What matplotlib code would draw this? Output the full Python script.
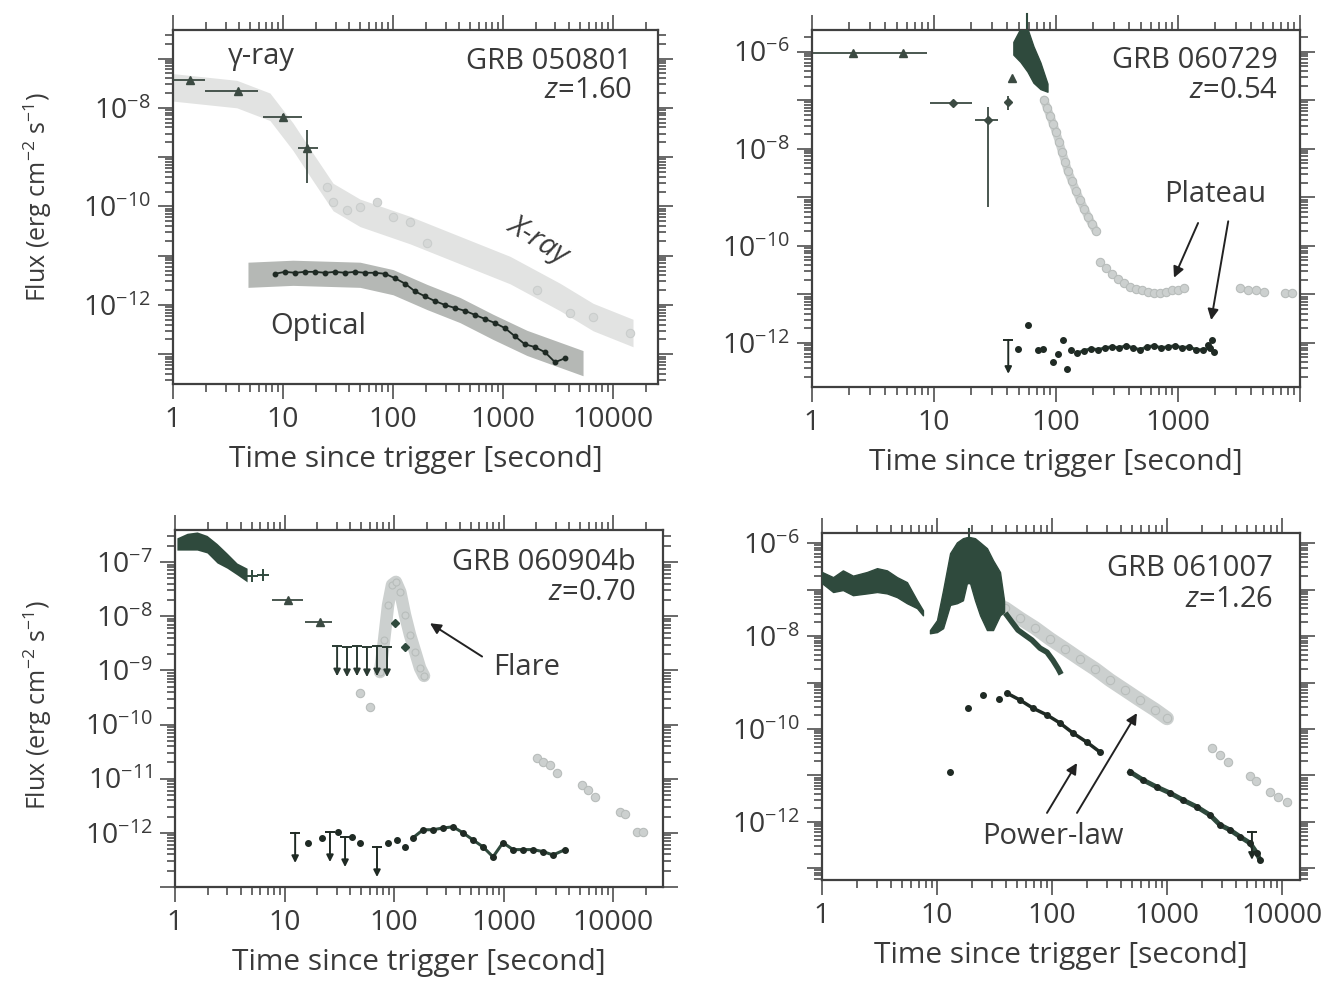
import numpy as np
import matplotlib
matplotlib.use("Agg")
import matplotlib.pyplot as plt
from matplotlib.ticker import FixedLocator, FuncFormatter, LogLocator, NullFormatter

plt.rcParams['font.family'] = ['Open Sans', 'DejaVu Sans']
plt.rcParams['mathtext.fontset'] = 'custom'
plt.rcParams['mathtext.rm'] = 'Open Sans'
plt.rcParams['mathtext.it'] = 'Open Sans:italic'
plt.rcParams['mathtext.default'] = 'regular'

# ====================== DATA ======================
# --- GRB 050801 ---
a_gam_x = [1.43, 3.9, 10.0, 16.5]
a_gam_y = [3.7e-8, 2.2e-8, 6.6e-9, 1.55e-9]
a_gam_xlo = [1.0, 1.95, 6.6, 13.7]
a_gam_xhi = [1.95, 5.9, 14.8, 20.8]
a_gam_ylo = [3.3e-8, 2.0e-8, 5.9e-9, 3.0e-10]
a_gam_yhi = [4.1e-8, 2.4e-8, 7.4e-9, 3.6e-9]
a_band_x = [1, 3.8, 7.6, 12.3, 18.7, 28.5, 50.1, 143, 406, 1160, 3300, 6580, 15200]
a_band_y = [2.6e-8, 1.9e-8, 1.05e-8, 2.6e-9, 6.3e-10, 1.55e-10, 7.4e-11, 3.3e-11,
            1.3e-11, 5.1e-12, 1.45e-12, 5.7e-13, 2.7e-13]
a_xr_x = [25.1, 28.5, 38.2, 50.1, 71.6, 100, 143, 204, 2040, 4060, 6580, 14300]
a_xr_y = [2.5e-10, 1.2e-10, 8.5e-11, 9.8e-11, 1.2e-10, 6.2e-11, 4.9e-11, 1.8e-11,
          2.0e-12, 6.9e-13, 5.7e-13, 2.7e-13]
a_optband_x = [4.8, 12.3, 50.1, 100, 204, 406, 811, 1650, 5340]
a_optband_y = [4.1e-12, 4.5e-12, 4.1e-12, 2.9e-12, 1.45e-12, 7.9e-13, 3.6e-13, 1.7e-13, 6.6e-14]
a_opt_x = [8.46, 10.4, 12.9, 15.8, 19.5, 24.1, 29.7, 36.6, 45.2, 55.6, 68.6, 84.6, 104, 129,
           158, 195, 241, 297, 366, 452, 556, 686, 846, 1040, 1290, 1580, 1950, 2410, 2970, 3660]
a_opt_y = [4.3e-12, 4.7e-12, 4.5e-12, 4.7e-12, 4.7e-12, 4.5e-12, 4.7e-12, 4.5e-12, 4.7e-12,
           4.5e-12, 4.5e-12, 4.3e-12, 3.5e-12, 2.7e-12, 1.9e-12, 1.5e-12, 1.2e-12, 1.0e-12,
           8.7e-13, 7.6e-13, 6.3e-13, 5.2e-13, 4.3e-13, 3.4e-13, 2.3e-13, 1.6e-13, 1.4e-13,
           1.1e-13, 6.9e-14, 8.3e-14]

# --- GRB 060729 ---
b_bat_x = [2.15, 5.56]
b_bat_y = [9.5e-7, 9.5e-7]
b_bat_xlo = [1.0, 3.6]
b_bat_xhi = [3.6, 8.8]
b_crs_x = [14.3, 27.8, 40.6]
b_crs_y = [8.9e-8, 4.0e-8, 9.0e-8]
b_crs_xlo = [9.3, 21.7, 39.0]
b_crs_xhi = [20.6, 33.6, 42.2]
b_crs_ylo = [8.0e-8, 6.3e-10, 6.4e-8]
b_crs_yhi = [9.9e-8, 7.4e-8, 1.2e-7]
b_tri_x = [43.9]
b_tri_y = [2.9e-7]
b_peak_x = [44.7, 51.0, 58.3, 65.3, 74.5, 85.1]
b_peak_hi = [1.6e-6, 3.0e-6, 3.0e-6, 1.3e-6, 6.0e-7, 2.2e-7]
b_peak_lo = [8.7e-7, 6.2e-7, 3.9e-7, 2.3e-7, 1.7e-7, 1.5e-7]
b_xr_x = [79.7, 84.4, 89.3, 94.5, 100, 106, 112, 119, 125, 135, 146, 157, 170, 183, 197, 213,
          230, 257, 288, 322, 361, 404, 453, 507, 568, 636, 712, 797, 893, 1000, 1120,
          3220, 3750, 4360, 5070, 7530, 8600]
b_xr_y = [1.02e-7, 7.0e-8, 4.8e-8, 3.3e-8, 2.2e-8, 1.4e-8, 8.7e-9, 5.4e-9, 3.5e-9, 2.2e-9,
          1.36e-9, 8.9e-10, 5.8e-10, 4.0e-10, 2.8e-10, 2.0e-10,
          4.7e-11, 3.5e-11, 2.6e-11, 2.1e-11, 1.7e-11, 1.4e-11, 1.3e-11, 1.2e-11, 1.1e-11,
          1.07e-11, 1.07e-11, 1.1e-11, 1.2e-11, 1.23e-11, 1.35e-11,
          1.35e-11, 1.23e-11, 1.2e-11, 1.1e-11, 1.07e-11, 1.07e-11]
b_opt_x = [49.1, 59.4, 71.8, 78.9, 95.3, 103, 115, 124, 132,
           149, 170, 194, 221, 252, 288, 328, 375, 428, 488, 557, 636, 726, 828, 945,
           1080, 1230, 1410, 1600, 1830, 1760, 1900, 1970]
b_opt_y = [7.6e-13, 2.3e-12, 7.2e-13, 7.6e-13, 4.1e-13, 6.0e-13, 1.15e-12, 2.9e-13, 7.2e-13,
           6.2e-13, 6.9e-13, 7.6e-13, 7.2e-13, 7.9e-13, 8.3e-13, 7.9e-13, 8.7e-13, 7.9e-13,
           7.2e-13, 8.3e-13, 8.7e-13, 7.9e-13, 8.3e-13, 8.7e-13, 7.9e-13, 8.3e-13, 7.2e-13,
           7.2e-13, 7.9e-13, 9.1e-13, 1.15e-12, 6.5e-13]
b_ul_x = [40.6]
b_ul_y = [1.15e-12]

# --- GRB 060904b ---
c_bat_x = [1.04, 1.29, 1.59, 1.96, 2.42, 2.98, 3.68, 4.55]
c_bat_hi = [2.8e-7, 3.4e-7, 3.6e-7, 3.1e-7, 2.2e-7, 1.47e-7, 9.6e-8, 7.7e-8]
c_bat_lo = [1.66e-7, 1.66e-7, 1.66e-7, 1.47e-7, 9.6e-8, 7.7e-8, 5.8e-8, 4.3e-8]
c_crs_x = [5.0, 6.3]
c_crs_y = [5.5e-8, 5.8e-8]
c_tri_x = [10.8, 21.1]
c_tri_y = [2.0e-8, 7.8e-9]
c_tri_xlo = [7.7, 15.4]
c_tri_xhi = [14.8, 27.2]
c_ul_x = [30.2, 37.2, 45.9, 56.6, 69.9, 86.3]
c_ul_y = [2.8e-9, 2.7e-9, 2.8e-9, 2.7e-9, 2.8e-9, 2.7e-9]
c_flare_x = [74.5, 81.1, 88.2, 95.9, 104, 114, 126, 140, 156, 173, 188]
c_flare_y = [9.3e-10, 3.6e-9, 1.6e-8, 3.8e-8, 4.3e-8, 2.8e-8, 1.05e-8, 4.5e-9, 2.2e-9, 1.1e-9, 7.9e-10]
c_mid_x = [102, 126]
c_mid_y = [7.4e-9, 2.7e-9]
c_xr_x = [48.9, 60.4, 2020, 2300, 2660, 3080, 5210, 5910, 6850, 11600, 12900, 16600, 18800]
c_xr_y = [3.8e-10, 2.1e-10, 2.4e-11, 2.0e-11, 1.8e-11, 1.3e-11, 7.7e-12, 6.2e-12, 4.6e-12,
          2.4e-12, 2.2e-12, 1.05e-12, 1.05e-12]
c_opt_x = [16.4, 22.0, 30.8, 41.3, 48.9, 88.2, 106, 126, 149, 184, 227, 280, 346, 427, 526,
           650, 802, 989, 1220, 1510, 1860, 2300, 2830, 3650]
c_opt_y = [6.6e-13, 8.1e-13, 1.04e-12, 8.4e-13, 6.6e-13, 6.6e-13, 7.4e-13, 5.5e-13, 8.1e-13,
           1.14e-12, 1.14e-12, 1.23e-12, 1.29e-12, 1.0e-12, 7.4e-13, 5.5e-13, 3.6e-13, 6.6e-13,
           4.9e-13, 4.9e-13, 4.9e-13, 4.5e-13, 3.9e-13, 4.9e-13]
c_oul_x = [12.5, 26.0, 35.7, 69.9]
c_oul_y = [1.0e-12, 1.04e-12, 8.4e-13, 5.5e-13]

# --- GRB 061007 ---
d_bat_x = [1.0, 1.25, 1.52, 1.86, 2.46, 3.01, 3.67, 4.49, 5.48, 6.70, 7.55]
d_bat_hi = [2.4e-7, 1.86e-7, 2.6e-7, 2.0e-7, 2.4e-7, 2.9e-7, 2.6e-7, 1.86e-7, 1.45e-7, 5.9e-8, 3.6e-8]
d_bat_lo = [1.38e-7, 8.9e-8, 9.8e-8, 7.6e-8, 8.3e-8, 8.9e-8, 8.3e-8, 6.9e-8, 5.1e-8, 4.0e-8, 2.8e-8]
d_flare_x = [8.69, 10.0, 11.3, 13.0, 14.9, 16.8, 18.2, 19.4, 21.4, 23.7, 27.2, 30.7, 35.3, 38.3]
d_flare_hi = [1.35e-8, 2.2e-8, 9.8e-8, 6.1e-7, 1.04e-6, 1.28e-6, 1.35e-6, 1.35e-6, 1.28e-6,
              1.04e-6, 7.8e-7, 4.3e-7, 2.4e-7, 5.9e-8]
d_flare_lo = [1.15e-8, 1.22e-8, 1.48e-8, 4.7e-8, 5.1e-8, 5.9e-8, 1.38e-7, 1.38e-7, 5.9e-8,
              2.8e-8, 1.35e-8, 1.35e-8, 2.8e-8, 3.3e-8]
d_tail_x = [40.6, 44.9, 50.6, 58.2, 67.0, 78.7, 90.5, 102, 113, 117]
d_tail_y = [2.8e-8, 2.0e-8, 1.35e-8, 1.05e-8, 8.2e-9, 5.5e-9, 4.5e-9, 3.0e-9, 2.0e-9, 1.7e-9]
d_xr_x = [39.0, 52.7, 71.1, 96.1, 130, 175, 237, 319, 431, 582, 787, 1000,
          2460, 2890, 3390, 5270, 5940, 7870, 9230, 11000]
d_xr_y = [4.0e-8, 2.4e-8, 1.5e-8, 8.7e-9, 5.3e-9, 3.2e-9, 1.96e-9, 1.13e-9, 6.9e-10, 4.2e-10,
          2.6e-10, 1.7e-10, 3.9e-11, 2.8e-11, 1.95e-11, 9.8e-12, 7.6e-12, 4.4e-12, 3.5e-12, 2.7e-12]
d_opt_x = [13.0, 18.6, 25.1, 34.6, 40.6, 52.7, 68.4, 90.5, 117, 152, 201, 261,
           476, 618, 818, 1060, 1380, 1820, 2370, 2890, 3530, 4310, 5270, 6070, 6440]
d_opt_y = [1.2e-11, 2.9e-10, 5.4e-10, 4.4e-10, 5.9e-10, 4.2e-10, 2.8e-10, 2.0e-10, 1.35e-10,
           8.2e-11, 5.2e-11, 3.2e-11, 1.2e-11, 8.0e-12, 5.6e-12, 4.2e-12, 2.95e-12, 2.1e-12,
           1.4e-12, 8.6e-13, 6.7e-13, 4.8e-13, 3.5e-13, 2.1e-13, 1.5e-13]
d_ul_x = [5480]
d_ul_y = [6.1e-13]

# ====================== STYLE ======================
TXT = '#3a3a3a'
AXC = '#404040'
DARK = '#2f4a3d'
XRAY = '#ccd0cf'
XRAY_EDGE = '#b8bdbb'
BAND_LIGHT = '#e2e3e2'
BAND_OPT = '#b5b8b5'
FS = 21


def style_axis(ax, xmax, ylim, ylabels, xlabels):
    ax.set_xscale('log')
    ax.set_yscale('log')
    ax.set_xlim(1, xmax)
    ax.set_ylim(*ylim)
    lo, hi = int(np.floor(np.log10(ylim[0]))), int(np.ceil(np.log10(ylim[1])))
    ax.yaxis.set_major_locator(FixedLocator([10.0 ** k for k in range(lo, hi + 1)]))
    ax.yaxis.set_major_formatter(FuncFormatter(
        lambda v, p: r'10$^{%d}$' % round(np.log10(v)) if round(np.log10(v)) in ylabels else ''))
    ax.yaxis.set_minor_locator(LogLocator(base=10, subs=np.arange(2, 10), numticks=30))
    ax.yaxis.set_minor_formatter(NullFormatter())
    ax.xaxis.set_major_locator(FixedLocator([1, 10, 100, 1000, 10000]))
    ax.xaxis.set_major_formatter(FuncFormatter(
        lambda v, p: '%d' % round(v) if round(v) in xlabels else ''))
    ax.xaxis.set_minor_locator(LogLocator(base=10, subs=np.arange(2, 10), numticks=30))
    ax.xaxis.set_minor_formatter(NullFormatter())
    ax.tick_params(which='both', direction='out', top=True, right=True, color=AXC, width=1.1)
    ax.tick_params(which='major', length=11, pad=5, labelsize=20.5, labelcolor=TXT)
    ax.tick_params(which='minor', length=5.5)
    for s in ax.spines.values():
        s.set_color(AXC)
        s.set_linewidth(1.6)
    ax.set_xlabel('Time since trigger [second]', fontsize=21.5, color=TXT, labelpad=8)


def down_arrows(ax, xs, ys, drop, color):
    for x, y in zip(xs, ys):
        ax.annotate('', xy=(x, y / drop), xytext=(x, y),
                    arrowprops=dict(arrowstyle='-|>', color=color, lw=1.4,
                                    mutation_scale=10, shrinkA=0, shrinkB=0))
    ax.plot(xs, ys, '_', color=color, ms=7, mew=1.4)


def xr_marks(ax, xs, ys, ms=7, fc=XRAY, ec=XRAY_EDGE):
    ax.plot(xs, ys, 'o', ms=ms, mfc=fc, mec=ec, mew=0.8, ls='none', zorder=2)


fig = plt.figure(figsize=(13.26, 9.85), dpi=100)

# ---------------- GRB 050801 ----------------
ax1 = fig.add_axes([0.1305, 0.6102, 0.3658, 0.3594])
bx, by = np.array(a_band_x), np.array(a_band_y)
ax1.fill_between(bx, by / 1.9, by * 1.9, color=BAND_LIGHT, lw=0, zorder=1)
xr_marks(ax1, a_xr_x, a_xr_y, ms=6, fc='#d6d8d7', ec='#cacdcc')
ox, oy = np.array(a_optband_x), np.array(a_optband_y)
ax1.fill_between(ox, oy / 1.8, oy * 1.8, color=BAND_OPT, lw=0, zorder=1)
ax1.plot(a_opt_x, a_opt_y, '-o', color='#1f2a24', ms=3.2, lw=1.3, zorder=3)
gx, gy = np.array(a_gam_x), np.array(a_gam_y)
ax1.errorbar(gx, gy, xerr=[gx - np.array(a_gam_xlo), np.array(a_gam_xhi) - gx],
             yerr=[gy - np.array(a_gam_ylo), np.array(a_gam_yhi) - gy],
             fmt='^', ms=6, color='#3b4a42', elinewidth=1.3, capsize=0, zorder=4)
style_axis(ax1, 2.57e4, (2.5e-14, 3.8e-7), [-8, -10, -12], [1, 10, 100, 1000, 10000])
ax1.text(0.183, 0.924, 'γ-ray', transform=ax1.transAxes, fontsize=FS, color=TXT, ha='center', va='center')
ax1.text(0.946, 0.91, 'GRB 050801', transform=ax1.transAxes, fontsize=FS, color=TXT, ha='right', va='center')
ax1.text(0.946, 0.83, r'$\mathit{z}$=1.60', transform=ax1.transAxes, fontsize=FS, color=TXT, ha='right', va='center')
ax1.text(0.753, 0.407, 'X-ray', transform=ax1.transAxes, fontsize=FS, color=TXT, ha='center',
         va='center', rotation=-32, style='italic')
ax1.text(0.299, 0.161, 'Optical', transform=ax1.transAxes, fontsize=FS, color=TXT, ha='center', va='center')

# ---------------- GRB 060729 ----------------
ax2 = fig.add_axes([0.6124, 0.6071, 0.3680, 0.3624])
ax2.plot(b_xr_x[:16], b_xr_y[:16], '-', color=XRAY, lw=6, solid_capstyle='round', zorder=1)
xr_marks(ax2, b_xr_x, b_xr_y, ms=6)
ax2.fill_between(b_peak_x, b_peak_lo, b_peak_hi, color=DARK, lw=1, edgecolor=DARK, zorder=3)
ax2.plot([58.3, 58.3], [1.5e-6, 6e-6], color=DARK, lw=1.5, clip_on=False)
x2, y2 = np.array(b_bat_x), np.array(b_bat_y)
ax2.errorbar(x2, y2, xerr=[x2 - np.array(b_bat_xlo), np.array(b_bat_xhi) - x2],
             fmt='^', ms=6, color='#3b4a42', elinewidth=1.3, capsize=0)
x2, y2 = np.array(b_crs_x), np.array(b_crs_y)
ax2.errorbar(x2, y2, xerr=[x2 - np.array(b_crs_xlo), np.array(b_crs_xhi) - x2],
             yerr=[y2 - np.array(b_crs_ylo), np.array(b_crs_yhi) - y2],
             fmt='D', ms=4, color='#3b4a42', elinewidth=1.3, capsize=0)
ax2.plot(b_tri_x, b_tri_y, '^', ms=6, color='#3b4a42')
ax2.plot(b_opt_x[9:29], b_opt_y[9:29], '-', color=DARK, lw=2.2, zorder=3)
ax2.plot(b_opt_x, b_opt_y, 'o', color='#1f2a24', ms=4, zorder=4)
down_arrows(ax2, b_ul_x, b_ul_y, 5.0, '#1f2a24')
style_axis(ax2, 1.0e4, (1.23e-13, 2.8e-6), [-6, -8, -10, -12], [1, 10, 100, 1000])
ax2.text(0.955, 0.916, 'GRB 060729', transform=ax2.transAxes, fontsize=FS, color=TXT, ha='right', va='center')
ax2.text(0.955, 0.832, r'$\mathit{z}$=0.54', transform=ax2.transAxes, fontsize=FS, color=TXT, ha='right', va='center')
ax2.text(0.826, 0.538, 'Plateau', transform=ax2.transAxes, fontsize=FS, color=TXT, ha='center', va='center')
arw = dict(arrowstyle='-|>', color='#222222', lw=1.4, mutation_scale=16, shrinkA=0, shrinkB=0)
ax2.annotate('', xy=(927, 2.2e-11), xytext=(1460, 2.95e-10), arrowprops=arw)
ax2.annotate('', xy=(1870, 2.95e-12), xytext=(2580, 3.2e-10), arrowprops=arw)

# ---------------- GRB 060904b ----------------
ax3 = fig.add_axes([0.1320, 0.0995, 0.3680, 0.3624])
ax3.fill_between(c_bat_x, c_bat_lo, c_bat_hi, color=DARK, lw=0, zorder=3)
ax3.plot(c_crs_x, c_crs_y, '+', ms=8, mew=1.4, color=DARK)
x3, y3 = np.array(c_tri_x), np.array(c_tri_y)
ax3.errorbar(x3, y3, xerr=[x3 - np.array(c_tri_xlo), np.array(c_tri_xhi) - x3],
             fmt='^', ms=6, color='#3b4a42', elinewidth=1.3, capsize=0)
down_arrows(ax3, c_ul_x, c_ul_y, 3.6, '#2a3a32')
ax3.plot(c_flare_x, c_flare_y, '-', color=XRAY, lw=9, solid_capstyle='round', zorder=1)
xr_marks(ax3, c_flare_x, c_flare_y, ms=5)
xr_marks(ax3, c_xr_x, c_xr_y, ms=6)
ax3.plot(c_mid_x, c_mid_y, 'D', ms=4, color=DARK, zorder=4)
ax3.plot(c_opt_x[8:], c_opt_y[8:], '-', color=DARK, lw=2.2, zorder=3)
ax3.plot(c_opt_x, c_opt_y, 'o', color='#1f2a24', ms=4, zorder=4)
down_arrows(ax3, c_oul_x, c_oul_y, 3.6, '#1f2a24')
style_axis(ax3, 2.86e4, (1.0e-13, 3.9e-7), [-7, -8, -9, -10, -11, -12], [1, 10, 100, 1000, 10000])
ax3.text(0.945, 0.908, 'GRB 060904b', transform=ax3.transAxes, fontsize=FS, color=TXT, ha='right', va='center')
ax3.text(0.945, 0.824, r'$\mathit{z}$=0.70', transform=ax3.transAxes, fontsize=FS, color=TXT, ha='right', va='center')
ax3.text(0.721, 0.616, 'Flare', transform=ax3.transAxes, fontsize=FS, color=TXT, ha='center', va='center')
ax3.annotate('', xy=(213, 7.4e-9), xytext=(637, 1.8e-9), arrowprops=arw)

# ---------------- GRB 061007 ----------------
ax4 = fig.add_axes([0.6199, 0.1066, 0.3605, 0.3523])
ax4.plot(d_xr_x[:12], d_xr_y[:12], '-', color=XRAY, lw=10, solid_capstyle='round', zorder=1)
xr_marks(ax4, d_xr_x, d_xr_y, ms=6)
ax4.fill_between(d_bat_x, d_bat_lo, d_bat_hi, color=DARK, lw=1, edgecolor=DARK, zorder=3)
ax4.fill_between(d_flare_x, d_flare_lo, d_flare_hi, color=DARK, lw=1, edgecolor=DARK, zorder=3)
ax4.plot([19.0, 19.0], [1.3e-6, 2.0e-6], color=DARK, lw=1.5, clip_on=False)
ax4.plot(d_tail_x, d_tail_y, '-', color=DARK, lw=4, zorder=3)
ax4.plot(d_opt_x[4:12], d_opt_y[4:12], '-', color='#1f2a24', lw=2.5, zorder=3)
ax4.plot(d_opt_x[12:], d_opt_y[12:], '-', color=DARK, lw=3.5, zorder=3)
ax4.plot(d_opt_x, d_opt_y, 'o', color='#1f2a24', ms=4, zorder=4)
down_arrows(ax4, d_ul_x, d_ul_y, 4.0, '#1f2a24')
style_axis(ax4, 1.435e4, (5.6e-14, 1.66e-6), [-6, -8, -10, -12], [1, 10, 100, 1000, 10000])
ax4.text(0.944, 0.899, 'GRB 061007', transform=ax4.transAxes, fontsize=FS, color=TXT, ha='right', va='center')
ax4.text(0.944, 0.807, r'$\mathit{z}$=1.26', transform=ax4.transAxes, fontsize=FS, color=TXT, ha='right', va='center')
ax4.text(0.483, 0.124, 'Power-law', transform=ax4.transAxes, fontsize=FS, color=TXT, ha='center', va='center')
ax4.annotate('', xy=(165, 1.85e-11), xytext=(90.5, 1.56e-12), arrowprops=arw)
ax4.annotate('', xy=(548, 2.2e-10), xytext=(165, 1.56e-12), arrowprops=arw)

# y labels (left column only)
ylab = r'Flux (erg cm$^{-2}$ s$^{-1}$)'
fig.text(0.0287, 0.80, ylab, rotation=90, ha='center', va='center', fontsize=18, color=TXT)
fig.text(0.0287, 0.284, ylab, rotation=90, ha='center', va='center', fontsize=18, color=TXT)

fig.savefig('out.png', dpi=100)
